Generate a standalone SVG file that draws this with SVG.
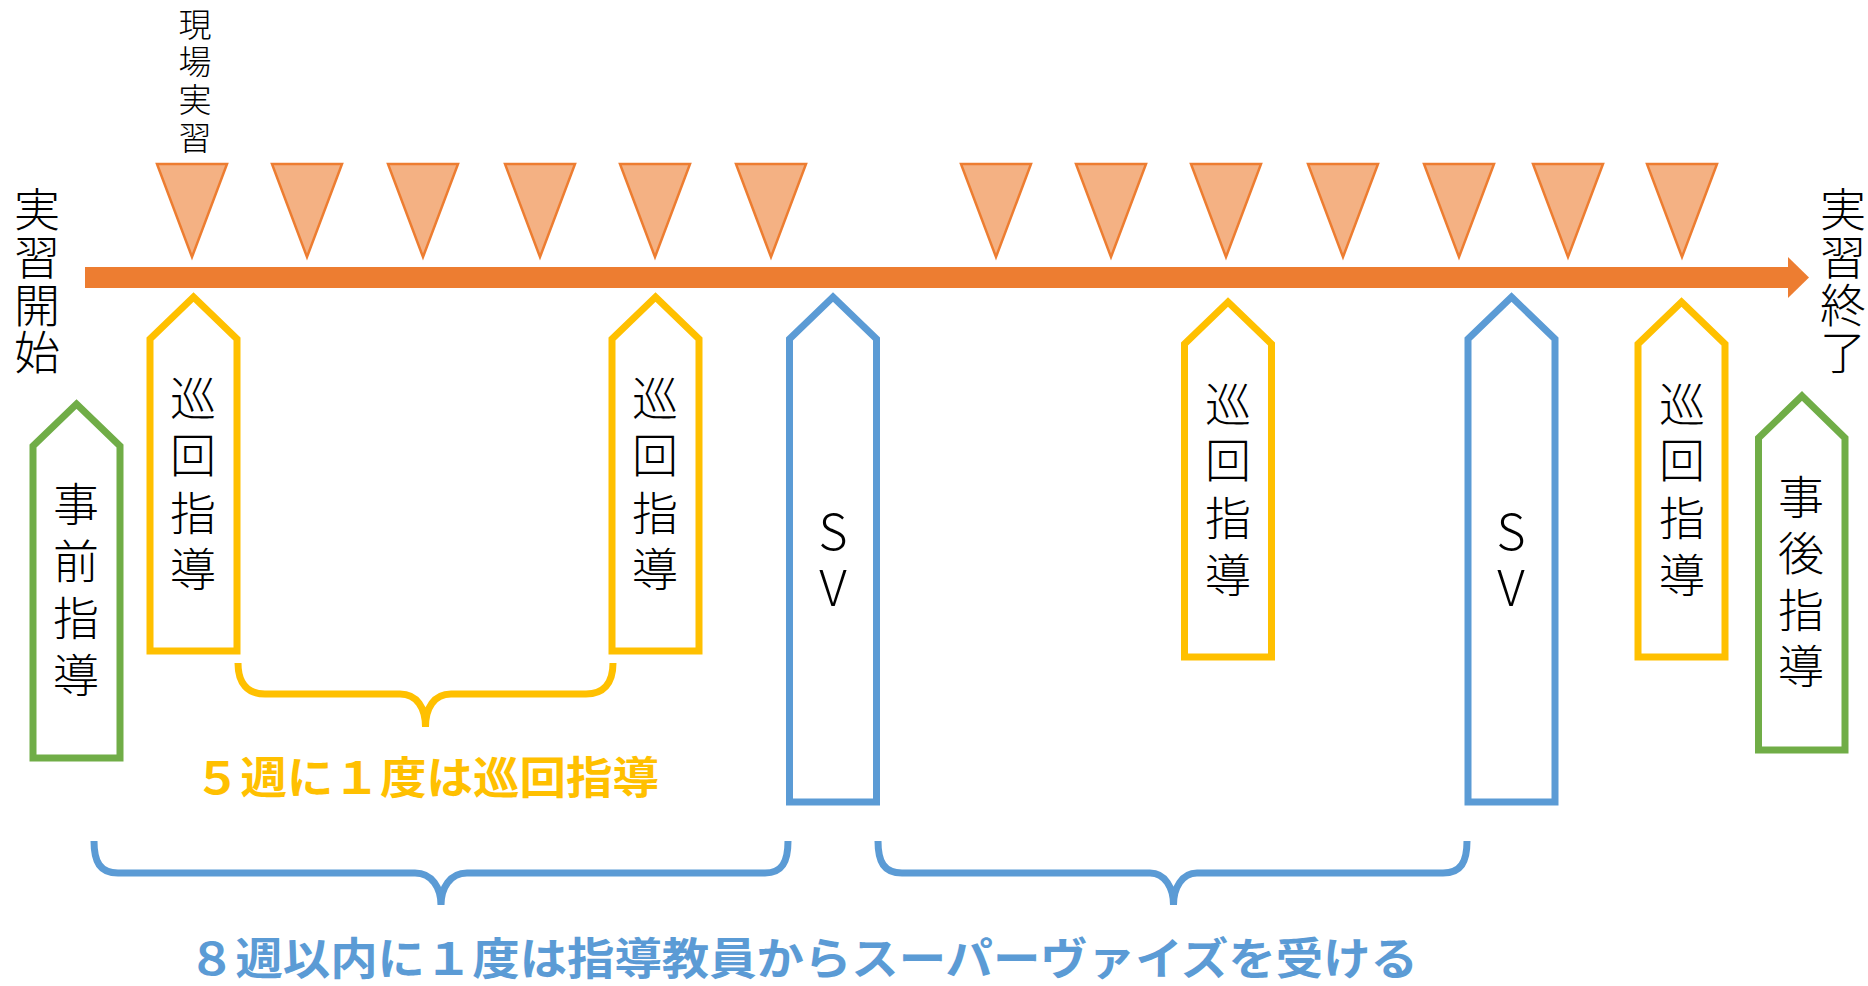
<svg xmlns="http://www.w3.org/2000/svg" width="1868" height="986" viewBox="0 0 1868 986">
<style>
.tri{fill:#F4B183;stroke:#ED7D31;stroke-width:2.5;stroke-linejoin:miter}
.box{fill:#FFFFFF;stroke-width:7;stroke-linejoin:miter}
.y{stroke:#FFC000}.b{stroke:#5B9BD5}.g{stroke:#70AD47}
.brace{fill:none;stroke-width:7}
.t{font-family:"Noto Sans CJK JP","Noto Sans",sans-serif;font-weight:300;fill:#000;text-anchor:middle;dominant-baseline:central}
.big{font-size:46px}
.mid{font-size:33px}
.sv{font-size:50px}
.cap{font-family:"Noto Sans CJK JP","Noto Sans",sans-serif;font-weight:700;font-size:44px;text-anchor:middle;dominant-baseline:central}
</style>
<rect width="1868" height="986" fill="#FFFFFF"/>
<g id="timeline">
<rect x="85" y="267" width="1704" height="21" fill="#ED7D31"/>
<polygon points="1788,257 1809,277.5 1788,298" fill="#ED7D31"/>
</g>
<g id="practicum-marks">
<polygon class="tri" points="157,164 227,164 192,257"/>
<polygon class="tri" points="272,164 342,164 307,257"/>
<polygon class="tri" points="388,164 458,164 423,257"/>
<polygon class="tri" points="505,164 575,164 540,257"/>
<polygon class="tri" points="620,164 690,164 655,257"/>
<polygon class="tri" points="736,164 806,164 771,257"/>
<polygon class="tri" points="961,164 1031,164 996,257"/>
<polygon class="tri" points="1076,164 1146,164 1111,257"/>
<polygon class="tri" points="1191,164 1261,164 1226,257"/>
<polygon class="tri" points="1308,164 1378,164 1343,257"/>
<polygon class="tri" points="1424,164 1494,164 1459,257"/>
<polygon class="tri" points="1533,164 1603,164 1568,257"/>
<polygon class="tri" points="1647,164 1717,164 1682,257"/>
</g>
<g id="label-genba">
<text class="t mid"><tspan x="195" y="23">現</tspan><tspan x="195" y="60">場</tspan><tspan x="195" y="98">実</tspan><tspan x="195" y="136">習</tspan></text>
</g>
<g id="label-start">
<text class="t big"><tspan x="37" y="206">実</tspan><tspan x="37" y="254">習</tspan><tspan x="37" y="302">開</tspan><tspan x="37" y="349">始</tspan></text>
</g>
<g id="label-end">
<text class="t big"><tspan x="1843" y="206">実</tspan><tspan x="1843" y="254">習</tspan><tspan x="1843" y="302">終</tspan><tspan x="1843" y="349">了</tspan></text>
</g>
<g id="node-jizen">
<polygon class="box g" points="76.5,404 120,446 120,758 33,758 33,446"/>
<text class="t big"><tspan x="76" y="501">事</tspan><tspan x="76" y="558">前</tspan><tspan x="76" y="615">指</tspan><tspan x="76" y="672">導</tspan></text>
</g>
<g id="node-junkai1">
<polygon class="box y" points="193.5,297 237,339 237,651 150,651 150,339"/>
<text class="t big"><tspan x="193" y="395">巡</tspan><tspan x="193" y="452">回</tspan><tspan x="193" y="510">指</tspan><tspan x="193" y="566">導</tspan></text>
</g>
<g id="node-junkai2">
<polygon class="box y" points="655.5,297 699,339 699,651 612,651 612,339"/>
<text class="t big"><tspan x="655" y="395">巡</tspan><tspan x="655" y="452">回</tspan><tspan x="655" y="510">指</tspan><tspan x="655" y="566">導</tspan></text>
</g>
<g id="node-sv1">
<polygon class="box b" points="833,297 876.5,339 876.5,802 789.5,802 789.5,339"/>
<text class="t sv"><tspan x="833" y="528">S</tspan><tspan x="833" y="584">V</tspan></text>
</g>
<g id="node-junkai3">
<polygon class="box y" points="1228,302 1271.5,344 1271.5,657 1184.5,657 1184.5,344"/>
<text class="t big"><tspan x="1228" y="401">巡</tspan><tspan x="1228" y="457">回</tspan><tspan x="1228" y="515">指</tspan><tspan x="1228" y="572">導</tspan></text>
</g>
<g id="node-sv2">
<polygon class="box b" points="1511.5,297 1555,339 1555,802 1468,802 1468,339"/>
<text class="t sv"><tspan x="1511" y="528">S</tspan><tspan x="1511" y="584">V</tspan></text>
</g>
<g id="node-junkai4">
<polygon class="box y" points="1681.5,302 1725,344 1725,657 1638,657 1638,344"/>
<text class="t big"><tspan x="1682" y="401">巡</tspan><tspan x="1682" y="457">回</tspan><tspan x="1682" y="515">指</tspan><tspan x="1682" y="572">導</tspan></text>
</g>
<g id="node-jigo">
<polygon class="box g" points="1802,396 1845,438 1845,750 1758.5,750 1758.5,438"/>
<text class="t big"><tspan x="1801" y="494">事</tspan><tspan x="1801" y="550">後</tspan><tspan x="1801" y="607">指</tspan><tspan x="1801" y="663">導</tspan></text>
</g>
<g id="connectors">
<path class="brace y" d="M238,663 C238,684 248,694 265,694 L400,694 C417,694 425.5,708 425.5,727 C425.5,708 434,694 451,694 L586,694 C603,694 613,684 613,663"/>
<path class="brace b" d="M94,841 C94,862 100,873 118,873 L415,873 C432,873 441,888 441,905 C441,888 450,873 467,873 L765,873 C782,873 788,862 788,841"/>
<path class="brace b" d="M878,841 C878,862 884,873 902,873 L1150,873 C1165,873 1173.5,888 1173.5,905 C1173.5,888 1182,873 1197,873 L1443,873 C1461,873 1467,862 1467,841"/>
</g>
<g id="caption-junkai">
<text class="cap" x="426.5" y="775" fill="#FFC000" textLength="465" lengthAdjust="spacingAndGlyphs">５週に１度は巡回指導</text>
</g>
<g id="caption-sv">
<text class="cap" x="803" y="956" fill="#5B9BD5" textLength="1230" lengthAdjust="spacingAndGlyphs">８週以内に１度は指導教員からスーパーヴァイズを受ける</text>
</g>
</svg>
